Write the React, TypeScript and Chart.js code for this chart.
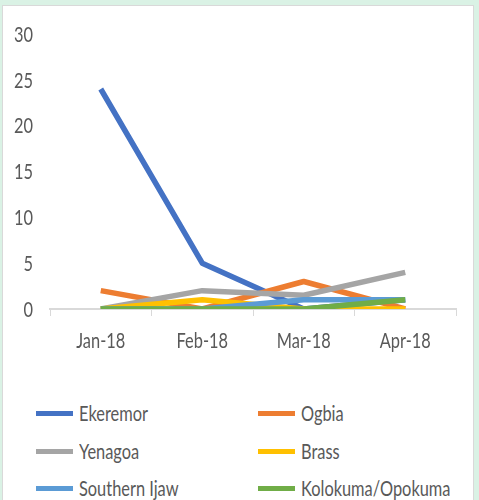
import React, { useEffect, useRef } from "react";
import { Chart, registerables } from "chart.js";

Chart.register(...registerables);

const categories = ["Jan-18", "Feb-18", "Mar-18", "Apr-18"];
const seriesNames = ["Ekeremor", "Ogbia", "Yenagoa", "Brass", "Southern Ijaw", "Kolokuma/Opokuma"];
const ekeremor = [24, 5, 0, 1];
const ogbia = [2, 0, 3, 0];
const yenagoa = [0, 2, 1.5, 4];
const brass = [0, 1, 0, 0];
const southernIjaw = [0, 0, 1, 1];
const kolokuma = [0, 0, 0, 1];
const seriesValues = [ekeremor, ogbia, yenagoa, brass, southernIjaw, kolokuma];
const seriesColors = ["#4472C4", "#ED7D31", "#A5A5A5", "#FFC000", "#5B9BD5", "#70AD47"];
const yMin = 0;
const yMax = 30;
const yStep = 5;

const FONT = "Lato, 'DejaVu Sans', sans-serif";
const FONT_SIZE = 21;
const SX = 0.78;
const TEXT = "#595959";

function drawScaled(ctx: CanvasRenderingContext2D, text: string, x: number, y: number) {
  ctx.save();
  ctx.translate(x, y);
  ctx.scale(SX, 1);
  ctx.fillText(text, 0, 0);
  ctx.restore();
}

const condensedLabels = {
  id: "condensedLabels",
  afterDraw(chart: any) {
    const ctx: CanvasRenderingContext2D = chart.ctx;
    const xs = chart.scales.x;
    const ys = chart.scales.y;
    ctx.save();
    ctx.fillStyle = TEXT;
    ctx.font = `${FONT_SIZE}px ${FONT}`;
    ctx.textBaseline = "middle";
    ctx.textAlign = "center";
    xs.ticks.forEach((t: any, i: number) => {
      drawScaled(ctx, String(xs.getLabelForValue(t.value)), xs.getPixelForTick(i), xs.top + 32);
    });
    ctx.textAlign = "right";
    ys.ticks.forEach((t: any, i: number) => {
      drawScaled(ctx, String(t.label), ys.right - 17, ys.getPixelForTick(i) + 1);
    });
    ctx.restore();
  },
};

export default function App() {
  const ref = useRef<HTMLCanvasElement | null>(null);

  useEffect(() => {
    document.body.style.margin = "0";
    const canvas = ref.current;
    if (!canvas) return;
    const chart = new Chart(canvas, {
      type: "line",
      data: {
        labels: categories,
        datasets: seriesNames.map((name, i) => ({
          label: name,
          data: seriesValues[i],
          borderColor: seriesColors[i],
          backgroundColor: seriesColors[i],
          borderWidth: 5.5,
          pointRadius: 0,
          pointHoverRadius: 0,
          tension: 0,
          fill: false,
          borderJoinStyle: "round" as const,
          borderCapStyle: "butt" as const,
          order: seriesNames.length - i,
        })),
      },
      options: {
        animation: false,
        responsive: false,
        maintainAspectRatio: false,
        layout: { padding: { left: 0, right: 23, top: 34, bottom: 0 } },
        plugins: { legend: { display: false }, tooltip: { enabled: false } },
        scales: {
          x: {
            offset: true,
            grid: {
              offset: true,
              drawOnChartArea: false,
              drawTicks: true,
              tickLength: 7,
              color: "#d9d9d9",
              lineWidth: 1,
            },
            border: { display: true, color: "#d9d9d9", width: 2 },
            ticks: { display: false },
            afterFit: (s: any) => {
              s.height = 380 - 309;
            },
          },
          y: {
            min: yMin,
            max: yMax,
            ticks: { stepSize: yStep, display: false },
            grid: { display: false, drawTicks: false },
            border: { display: false },
            afterFit: (s: any) => {
              s.width = 50;
            },
          },
        },
      },
      plugins: [condensedLabels],
    });
    return () => chart.destroy();
  }, []);

  const rowY = [413, 451, 488];
  const colX = [36, 258];

  return (
    <div style={{ position: "relative", width: 479, height: 500, background: "#daf2e5", overflow: "hidden", fontFamily: FONT }}>
      <div
        style={{
          position: "absolute",
          left: 2,
          top: 5,
          width: 472,
          height: 510,
          background: "#ffffff",
          border: "1px solid #d9d9d9",
          boxSizing: "border-box",
        }}
      />
      <canvas ref={ref} width={479} height={380} style={{ position: "absolute", left: 0, top: 0, width: 479, height: 380 }} />
      {seriesNames.map((name, i) => {
        const row = Math.floor(i / 2);
        const col = i % 2;
        return (
          <div
            key={name}
            style={{
              position: "absolute",
              left: colX[col],
              top: rowY[row] - 15,
              height: 30,
              display: "flex",
              alignItems: "center",
              whiteSpace: "nowrap",
            }}
          >
            <div style={{ width: 37, height: 5, background: seriesColors[i], marginRight: 6, flex: "none" }} />
            <span
              style={{
                display: "inline-block",
                fontSize: FONT_SIZE,
                color: TEXT,
                lineHeight: "30px",
                transform: `scaleX(${SX})`,
                transformOrigin: "left center",
              }}
            >
              {name}
            </span>
          </div>
        );
      })}
    </div>
  );
}
